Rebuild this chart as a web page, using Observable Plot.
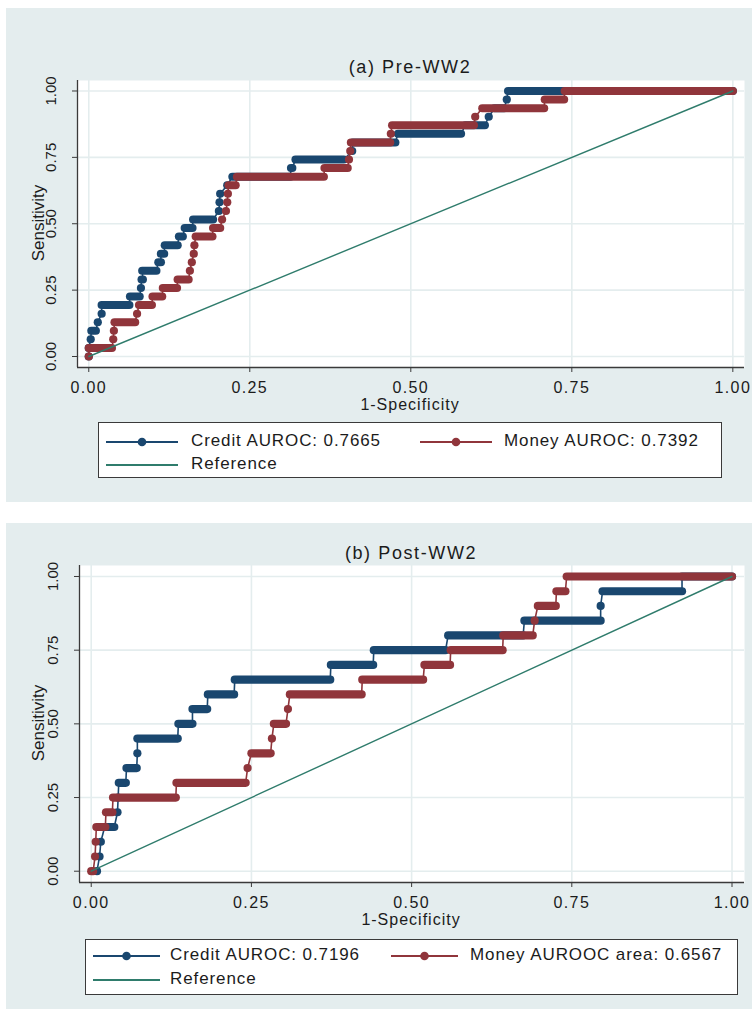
<!DOCTYPE html>
<html>
<head>
<meta charset="utf-8">
<script src="https://cdn.jsdelivr.net/npm/d3@7"></script>
<script src="https://cdn.jsdelivr.net/npm/@observablehq/plot@0.6"></script>
<style>
  html, body { margin: 0; padding: 0; background: #ffffff; }
  body { width: 752px; height: 1011px; position: relative; overflow: hidden;
         font-family: "Liberation Sans", Arial, Helvetica, sans-serif; color: #1b1b1b; }
  .panel { position: absolute; left: 6px; width: 746px; background: #e4edee; }
  .chart { position: absolute; left: 6px; }
  .t { position: absolute; white-space: nowrap; transform: translate(-50%, -50%); line-height: 1; }
  .title { font-size: 18px; letter-spacing: 1.6px; }
  .xlab { font-size: 16px; letter-spacing: 1px; }
  .ylab { font-size: 17px; transform: translate(-50%, -50%) rotate(-90deg); }
  .legend { position: absolute; background: #fff; border: 1.5px solid #3a3a3a; box-sizing: border-box; }
  .item { position: absolute; white-space: nowrap; font-size: 17px; letter-spacing: 0.9px; line-height: 1; transform: translateY(-50%); }
  .sample { position: absolute; }
  .chart svg [aria-label="x-axis tick label"] text { letter-spacing: 1.4px; }
</style>
</head>
<body>
<div class="panel" style="top:8px;height:494px"></div>
<div class="panel" style="top:523px;height:486px"></div>
<div id="chartA" class="chart" style="top:8px"></div>
<div id="chartB" class="chart" style="top:523px"></div>

<div class="t title" style="left:410px;top:67px">(a) Pre-WW2</div>
<div class="t xlab" style="left:410px;top:405px">1-Specificity</div>
<div class="t ylab" style="left:38px;top:223px">Sensitivity</div>

<div class="t title" style="left:411px;top:553px">(b) Post-WW2</div>
<div class="t xlab" style="left:411px;top:920px">1-Specificity</div>
<div class="t ylab" style="left:38px;top:723px">Sensitivity</div>

<div id="legendA" class="legend" style="left:98px;top:422px;width:624px;height:56px"></div>
<div id="legendB" class="legend" style="left:85px;top:939px;width:653px;height:56px"></div>

<script>
// ---------------- data ----------------
const axisTicks = [0, 0.25, 0.5, 0.75, 1];
const tickLabels = ["0.00", "0.25", "0.50", "0.75", "1.00"];

// Panel (a) Pre-WW2: sensitivity levels and horizontal runs of 1-specificity
const preSensitivity = [0, 0.032, 0.065, 0.097, 0.129, 0.161, 0.194, 0.226, 0.258, 0.290, 0.323,
  0.355, 0.387, 0.419, 0.452, 0.484, 0.516, 0.548, 0.581, 0.613, 0.645, 0.677, 0.710, 0.742,
  0.774, 0.806, 0.839, 0.871, 0.903, 0.935, 0.968, 1];
const preCreditFrom = [0, 0, 0.003, 0.004, 0.014, 0.020, 0.020, 0.064, 0.081, 0.082, 0.083,
  0.108, 0.112, 0.118, 0.140, 0.149, 0.162, 0.202, 0.203, 0.204, 0.215, 0.223, 0.314, 0.321,
  0.409, 0.410, 0.480, 0.585, 0.621, 0.630, 0.649, 0.651];
const preCreditTo = [0, 0, 0.003, 0.011, 0.014, 0.020, 0.063, 0.079, 0.081, 0.084, 0.105,
  0.112, 0.117, 0.138, 0.146, 0.161, 0.193, 0.202, 0.203, 0.204, 0.215, 0.313, 0.316, 0.396,
  0.409, 0.476, 0.578, 0.615, 0.621, 0.645, 0.649, 1];
const preMoneyFrom = [0, 0, 0.038, 0.039, 0.040, 0.075, 0.078, 0.099, 0.115, 0.138, 0.157,
  0.160, 0.163, 0.164, 0.166, 0.193, 0.207, 0.213, 0.215, 0.216, 0.217, 0.230, 0.366, 0.404,
  0.406, 0.407, 0.469, 0.471, 0.600, 0.611, 0.708, 0.739];
const preMoneyTo = [0, 0.036, 0.038, 0.039, 0.072, 0.075, 0.098, 0.114, 0.137, 0.155, 0.157,
  0.160, 0.163, 0.164, 0.192, 0.204, 0.207, 0.213, 0.215, 0.216, 0.228, 0.365, 0.402, 0.404,
  0.406, 0.468, 0.469, 0.598, 0.600, 0.707, 0.738, 1];

// Panel (b) Post-WW2
const postSensitivity = [0, 0.05, 0.10, 0.15, 0.20, 0.25, 0.30, 0.35, 0.40, 0.45, 0.50,
  0.55, 0.60, 0.65, 0.70, 0.75, 0.80, 0.85, 0.90, 0.95, 1];
const postCreditFrom = [0.009, 0.013, 0.015, 0.021, 0.041, 0.042, 0.043, 0.055, 0.072, 0.072,
  0.136, 0.158, 0.182, 0.224, 0.374, 0.441, 0.557, 0.676, 0.795, 0.798, 0.922];
const postCreditTo = [0.009, 0.013, 0.015, 0.036, 0.041, 0.042, 0.054, 0.071, 0.072, 0.135,
  0.158, 0.181, 0.223, 0.373, 0.440, 0.553, 0.674, 0.795, 0.795, 0.922, 1];
const postMoneyFrom = [0, 0.006, 0.007, 0.008, 0.023, 0.034, 0.133, 0.244, 0.250, 0.282, 0.285,
  0.307, 0.310, 0.423, 0.520, 0.561, 0.643, 0.692, 0.697, 0.726, 0.742];
const postMoneyTo = [0.003, 0.006, 0.007, 0.022, 0.033, 0.132, 0.241, 0.244, 0.280, 0.282, 0.304,
  0.307, 0.422, 0.518, 0.560, 0.642, 0.689, 0.692, 0.725, 0.740, 1];

// Reference diagonal
const refX = [0, 1];
const refY = [0, 1];

const legendA = ["Credit AUROC: 0.7665", "Money AUROC: 0.7392", "Reference"];
const legendB = ["Credit AUROC: 0.7196", "Money AUROOC area: 0.6567", "Reference"];

// ---------------- style ----------------
const BLUE = "#1a476f";
const RED = "#90353b";
const TEAL = "#2f7c6c";
const GRID = "#e4edee";
const AXIS = "#3a3a3a";
const FONT = '"Liberation Sans", Arial, Helvetica, sans-serif';

function rocMarks(levels, from, to, color) {
  const runs = levels.map((y, i) => ({y, x1: from[i], x2: to[i]}));
  const verts = runs.flatMap(r => [{x: r.x1, y: r.y}, {x: r.x2, y: r.y}]);
  return [
    Plot.line(verts, {x: "x", y: "y", stroke: color, strokeWidth: 1.6}),
    Plot.link(runs, {x1: "x1", x2: "x2", y1: "y", y2: "y", stroke: color, strokeWidth: 8.2, strokeLinecap: "round"})
  ];
}

function panel(opts) {
  const ref = refX.map((x, i) => ({x, y: refY[i]}));
  return Plot.plot({
    width: 746,
    height: 400,
    marginTop: opts.mt, marginBottom: opts.mb, marginLeft: opts.ml, marginRight: opts.mr,
    style: {background: "none", fontFamily: FONT, fontSize: "16px", color: "#1b1b1b", overflow: "visible"},
    x: {domain: opts.xd},
    y: {domain: opts.yd},
    marks: [
      Plot.frame({fill: "white", stroke: null}),
      Plot.gridX({ticks: axisTicks, stroke: GRID, strokeOpacity: 1, strokeWidth: 1.6}),
      Plot.gridY({ticks: axisTicks, stroke: GRID, strokeOpacity: 1, strokeWidth: 1.6}),
      Plot.ruleX([opts.xd[0]], {stroke: AXIS, strokeWidth: 1.3}),
      Plot.ruleY([opts.yd[0]], {stroke: AXIS, strokeWidth: 1.3}),
      Plot.axisX({ticks: axisTicks, tickSize: 5, tickPadding: 9, stroke: AXIS, fill: "#1b1b1b",
        tickFormat: d => tickLabels[axisTicks.indexOf(d)], label: null, fontSize: 16}),
      Plot.axisY({ticks: axisTicks, tickSize: 5, tickPadding: 17, tickRotate: -90, stroke: AXIS, fill: "#1b1b1b",
        tickFormat: d => tickLabels[axisTicks.indexOf(d)], label: null, fontSize: 15}),
      ...rocMarks(opts.levels, opts.cFrom, opts.cTo, BLUE),
      ...rocMarks(opts.levels, opts.mFrom, opts.mTo, RED),
      Plot.line(ref, {x: "x", y: "y", stroke: TEAL, strokeWidth: 1.4})
    ]
  });
}

document.getElementById("chartA").append(panel({
  mt: 72, mb: 41, ml: 71, mr: 8,
  xd: [-0.0175, 1.0181], yd: [-0.0414, 1.0395],
  levels: preSensitivity, cFrom: preCreditFrom, cTo: preCreditTo, mFrom: preMoneyFrom, mTo: preMoneyTo
}));
document.getElementById("chartB").append(panel({
  mt: 42, mb: 41, ml: 73, mr: 8,
  xd: [-0.0183, 1.0195], yd: [-0.0383, 1.0373],
  levels: postSensitivity, cFrom: postCreditFrom, cTo: postCreditTo, mFrom: postMoneyFrom, mTo: postMoneyTo
}));

// ---------------- legends ----------------
function sample(color, withDot, width) {
  const svg = d3.create("svg").attr("width", width).attr("height", 12);
  svg.append("line").attr("x1", 0).attr("x2", width).attr("y1", 6).attr("y2", 6)
    .attr("stroke", color).attr("stroke-width", 2);
  if (withDot) svg.append("circle").attr("cx", width / 2).attr("cy", 6).attr("r", 4.3).attr("fill", color);
  return svg.node();
}
function buildLegend(id, labels, pos) {
  const box = document.getElementById(id);
  const items = [
    {color: BLUE, dot: true, sx: pos.s1, tx: pos.t1, y: pos.r1, text: labels[0]},
    {color: RED, dot: true, sx: pos.s2, tx: pos.t2, y: pos.r1, text: labels[1]},
    {color: TEAL, dot: false, sx: pos.s1, tx: pos.t1, y: pos.r2, text: labels[2]}
  ];
  for (const it of items) {
    const s = document.createElement("div");
    s.className = "sample";
    s.style.left = it.sx + "px";
    s.style.top = (it.y - 6) + "px";
    s.append(sample(it.color, it.dot, pos.sw));
    box.append(s);
    const t = document.createElement("div");
    t.className = "item";
    t.style.left = it.tx + "px";
    t.style.top = it.y + "px";
    t.textContent = it.text;
    box.append(t);
  }
}
// positions inside each legend box (box-relative)
buildLegend("legendA", legendA, {s1: 7, t1: 92, s2: 321, t2: 405, sw: 72, r1: 17, r2: 40});
buildLegend("legendB", legendB, {s1: 7, t1: 84, s2: 305, t2: 384, sw: 67, r1: 14, r2: 38});
</script>
</body>
</html>
